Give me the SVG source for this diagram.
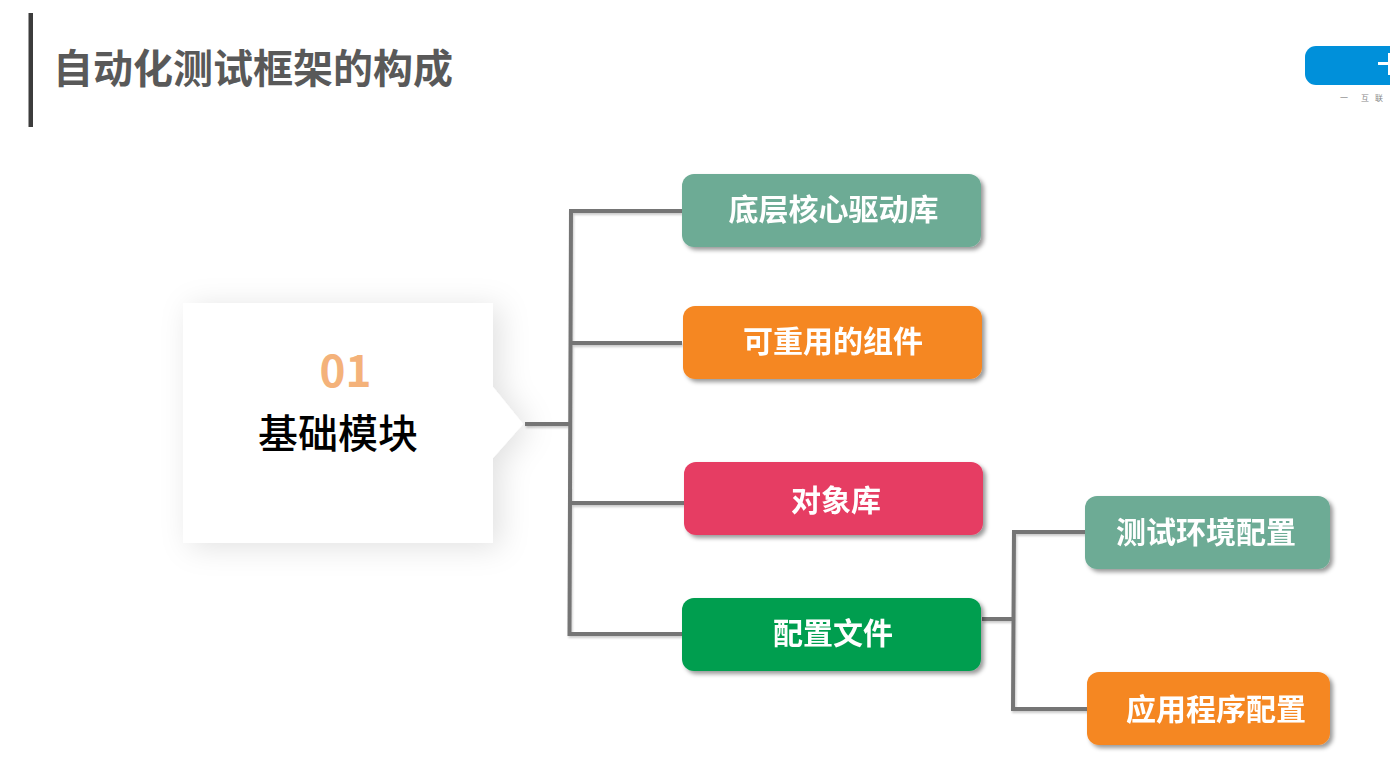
<svg xmlns="http://www.w3.org/2000/svg" width="1390" height="762" viewBox="0 0 1390 762">
<style>
text{font-family:"Noto Sans CJK SC","Noto Sans",sans-serif;text-anchor:middle}
.b{font-weight:700;font-size:30px;fill:#fff}
.c{fill:none;stroke:#757575;stroke-width:4}
.n{filter:url(#bs)}
</style>
<defs>
<filter id="bs" x="-10%" y="-20%" width="120%" height="150%"><feDropShadow dx="3" dy="3" stdDeviation="2" flood-color="#000" flood-opacity=".4"/></filter>
<filter id="ls" filterUnits="userSpaceOnUse" x="500" y="180" width="620" height="560"><feDropShadow dx="1" dy="2" stdDeviation="1" flood-color="#000" flood-opacity=".2"/></filter>
<filter id="ms" x="-25%" y="-25%" width="150%" height="150%"><feDropShadow dx="7" dy="4" stdDeviation="15" flood-color="#000" flood-opacity=".12"/></filter>
</defs>
<rect width="1390" height="762" fill="#fff"/>
<g id="header">
<rect x="28.500" y="13" width="4.500" height="114" fill="#3c3c3c"/>
<text x="253" y="83" font-weight="700" fill="#595959" style="font-size:40px">自动化测试框架的构成</text>
</g>
<g id="logo">
<path d="M1390 46H1316a11 11 0 0 0-11 11v17a11 11 0 0 0 11 11h74z" fill="#0090DA"/>
<rect x="1378" y="62" width="12" height="3" fill="#fff"/>
<rect x="1388" y="53" width="2" height="22" fill="#fff"/>
<text x="1344" y="101" font-size="8" fill="#888">一</text>
<text x="1365" y="101" font-size="8" fill="#888">互</text>
<text x="1379" y="101" font-size="8" fill="#888">联</text>
</g>
<g id="main">
<polygon points="183,303 493,303 493,387 523,424 493,458 493,543 183,543" fill="#fff" filter="url(#ms)"/>
<text x="345.500" y="387" font-size="44" font-weight="700" fill="#F4B27A" font-family="Noto Sans">01</text>
<text x="338" y="448" font-size="40" font-weight="500" fill="#000">基础模块</text>
</g>
<g id="connectors" filter="url(#ls)">
<path class="c" d="M525 424H570"/>
<path class="c" d="M682 211H571L569.500 634H682"/>
<path class="c" d="M570.500 343H682"/>
<path class="c" d="M570 503H684"/>
<path class="c" d="M982 619H1013"/>
<path class="c" d="M1086 532H1014L1013 709H1088"/>
</g>
<g id="n1" class="n"><rect x="682" y="174" width="299" height="73" rx="12" fill="#6DAB95"/><text class="b" x="833.500" y="220">底层核心驱动库</text></g>
<g id="n2" class="n"><rect x="683" y="306" width="299" height="73" rx="12" fill="#F58722"/><text class="b" x="833" y="352">可重用的组件</text></g>
<g id="n3" class="n"><rect x="684" y="462" width="299" height="73" rx="12" fill="#E63E63"/><text class="b" x="836" y="511">对象库</text></g>
<g id="n4" class="n"><rect x="682" y="598" width="299" height="73" rx="12" fill="#009E4F"/><text class="b" x="833" y="644">配置文件</text></g>
<g id="n5" class="n"><rect x="1085" y="496" width="245" height="73" rx="12" fill="#6DAB95"/><text class="b" x="1206" y="543">测试环境配置</text></g>
<g id="n6" class="n"><rect x="1087" y="672" width="243" height="73" rx="12" fill="#F58722"/><text class="b" x="1216" y="720">应用程序配置</text></g>
</svg>
